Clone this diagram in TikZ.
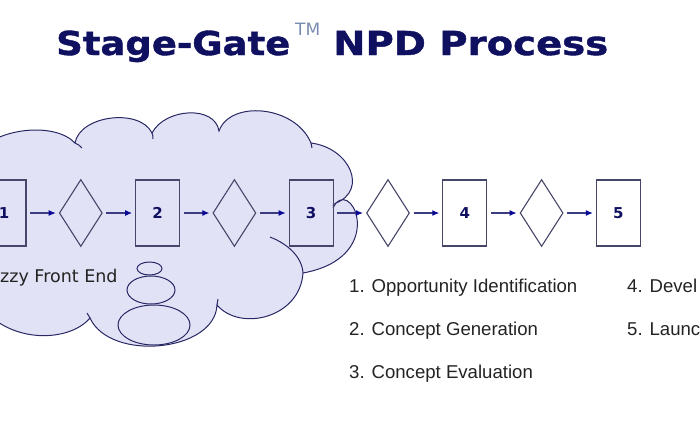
\documentclass[tikz,border=0pt]{standalone}
\usepackage{fontspec}
\newfontfamily\vfont{DejaVu Sans}
\newfontfamily\tfont{DejaVu Sans Bold}[FakeBold=1.2]
\newfontfamily\afont{Liberation Sans}
\usetikzlibrary{shapes.geometric}
\usetikzlibrary{arrows.meta,calc,positioning}

\definecolor{titleblue}{RGB}{16,16,96}
\definecolor{tmgray}{RGB}{120,140,175}
\definecolor{cloudfill}{RGB}{226,226,247}
\definecolor{cloudline}{RGB}{40,40,100}
\definecolor{boxline}{RGB}{70,70,105}
\definecolor{arrowline}{RGB}{60,60,130}
\definecolor{arrowtip}{RGB}{10,10,150}
\definecolor{textgray}{RGB}{35,35,35}

\begin{document}
\begin{tikzpicture}[x=1pt,y=-1pt,
  stagebox/.style={rectangle,draw=boxline,line width=1.1pt,minimum width=44pt,minimum height=66pt,inner sep=0,text=titleblue,font=\vfont\bfseries\fontsize{15}{15}\selectfont},
  gatebox/.style={diamond,draw=boxline,line width=1.1pt,minimum width=43pt,minimum height=67pt,inner sep=0},
  flow/.style={draw=arrowline,line width=1.1pt,-{Latex[length=7pt,width=6pt,color=arrowtip]},shorten <=3.5pt,shorten >=3pt},
  titletext/.style={anchor=base west,inner sep=0,text=titleblue,font=\tfont\fontsize{33}{33}\selectfont},
  listtext/.style={anchor=base west,inner sep=0,text=textgray,font=\afont\fontsize{18.6}{18.6}\selectfont},
  cloudedge/.style={draw=cloudline,line width=1pt},
  puff/.style={ellipse,cloudedge,fill=cloudfill,inner sep=0}]
\useasboundingbox (0,0) rectangle (700,440);
\clip (0,0) rectangle (700,440);

% Title
\node[titletext] (stage) at (56,55) {\scalebox{1.12}[1]{Stage-Gate}};
\node[anchor=base west,inner sep=0,text=tmgray,font=\vfont\fontsize{17}{17}\selectfont] (tm) at (295,35) {TM};
\node[titletext] (npd) at (333,55) {\scalebox{1.17}[1]{NPD Process}};

% Cloud
\path[cloudedge,fill=cloudfill] (-20,150) .. controls (0,128) and (55,122) .. (75,143)
  .. controls (80,115) and (140,108) .. (152,133)
  .. controls (165,108) and (215,105) .. (219,131)
  .. controls (230,100) and (295,105) .. (311,143)
  .. controls (350,148) and (368,190) .. (336,203)
  .. controls (355,183) and (385,258) .. (303,273)
  .. controls (300,318) and (240,332) .. (217,305)
  .. controls (215,352) and (110,362) .. (90,318)
  .. controls (70,342) and (10,345) .. (-20,305) -- cycle;
% tails
\draw[cloudedge] (75,143) .. controls (78,144) and (80,146) .. (82,148);
\draw[cloudedge] (152,133) .. controls (153,135) and (153,137) .. (153,139);
\draw[cloudedge] (311,143) .. controls (312,145) .. (312,148);
\draw[cloudedge] (336,203) .. controls (335,205) .. (333,208);
\draw[cloudedge] (270,237) .. controls (288,244) and (302,257) .. (303,273);
\draw[cloudedge] (217,305) .. controls (217,302) .. (218,299);
\draw[cloudedge] (90,318) .. controls (89,316) .. (87,313);

\node[puff,minimum width=25pt,minimum height=13pt] (puff1) at (149.5,268.5) {};
\node[puff,minimum width=48pt,minimum height=28pt] (puff2) at (151,290) {};
\node[puff,minimum width=72pt,minimum height=40pt] (puff3) at (154,325) {};

\node[anchor=base west,inner sep=0,text=textgray,font=\vfont\fontsize{17.5}{17.5}\selectfont] (fuzzy) at (0,282) {zzy Front End};

\begin{scope}[node distance=76.8pt]
% Nodes
\node[stagebox] (s1) at (4,213) {1};
\node[gatebox,right of = s1] (g1) {};
\node[stagebox,right of = g1] (s2) {2};
\node[gatebox,right of = s2] (g2) {};
\node[stagebox,right of = g2] (s3) {3};
\node[gatebox,right of = s3] (g3) {};
\node[stagebox,right of = g3] (s4) {4};
\node[gatebox,right of = s4] (g4) {};
\node[stagebox,right of = g4] (s5) {5};

%arcs
\path (s1) edge[flow] (g1);
\path (g1) edge[flow] (s2);
\path (s2) edge[flow] (g2);
\path (g2) edge[flow] (s3);
\path (s3) edge[flow] (g3);
\path (g3) edge[flow] (s4);
\path (s4) edge[flow] (g4);
\path (g4) edge[flow] (s5);
\end{scope}

% Legend
\node[listtext] (item1) at (349,292) {1. Opportunity Identification};
\node[listtext] (item2) at (349,335) {2. Concept Generation};
\node[listtext] (item3) at (349,378) {3. Concept Evaluation};
\node[listtext] (item4) at (627,292) {4. Devel};
\node[listtext] (item5) at (627,335) {5. Launc};

\end{tikzpicture}
\end{document}
